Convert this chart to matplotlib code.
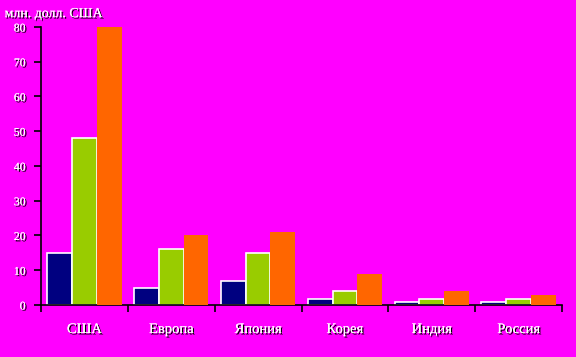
import numpy as np
from matplotlib import pyplot as plt
from matplotlib import patheffects as pe

# data (млн. долл. США)
categories = ["США", "Европа", "Япония", "Корея", "Индия", "Россия"]
series_1 = [15, 5, 7, 1.7, 1, 1]
series_2 = [48, 16, 15, 4, 1.7, 1.7]
series_3 = [80, 20, 21, 9, 4, 3]
y_ticks = [0, 10, 20, 30, 40, 50, 60, 70, 80]

BG = "#ff00ff"
shadow = [pe.withSimplePatchShadow(offset=(1, -1), shadow_rgbFace="black", alpha=1.0), pe.Normal()]

fig = plt.figure(figsize=(5.76, 3.57), dpi=100, facecolor=BG)
ax = fig.add_axes([0.0712, 0.1457, 0.9045, 0.7787], facecolor=BG)

x = np.arange(len(categories))
w = 0.285
ax.bar(x - w, series_1, w, color="#000080", edgecolor="white", linewidth=1.2, zorder=2)
ax.bar(x, series_2, w, color="#99cc00", edgecolor="white", linewidth=1.2, zorder=2)
ax.bar(x + w, series_3, w, color="#ff6600", linewidth=0, zorder=3)

ax.set_xlim(-0.5, len(categories) - 0.5)
ax.set_ylim(0, 80)

for s in ["top", "right"]:
    ax.spines[s].set_visible(False)
ax.spines["left"].set_linewidth(1.2)
ax.spines["bottom"].set_linewidth(1.2)

ax.set_yticks(y_ticks)
ax.set_yticklabels([str(v) for v in y_ticks])
ax.tick_params(axis="y", length=5, width=1.2, colors="black", labelcolor="white", labelsize=8.5, pad=6)

ax.set_xticks(x)
ax.set_xticklabels(categories)
ax.set_xticks(np.arange(len(categories) + 1) - 0.5, minor=True)
ax.tick_params(axis="x", which="major", length=0, labelcolor="white", labelsize=10.5, pad=13)
ax.tick_params(axis="x", which="minor", length=5, width=1.2, colors="black")

for lbl in ax.get_xticklabels() + ax.get_yticklabels():
    lbl.set_family("Liberation Serif")
    lbl.set_path_effects(shadow)

fig.text(0.008, 0.952, "млн. долл. США", color="white", fontsize=10,
         family="Liberation Serif", path_effects=shadow)

fig.savefig("out.png", dpi=100, facecolor=BG)
